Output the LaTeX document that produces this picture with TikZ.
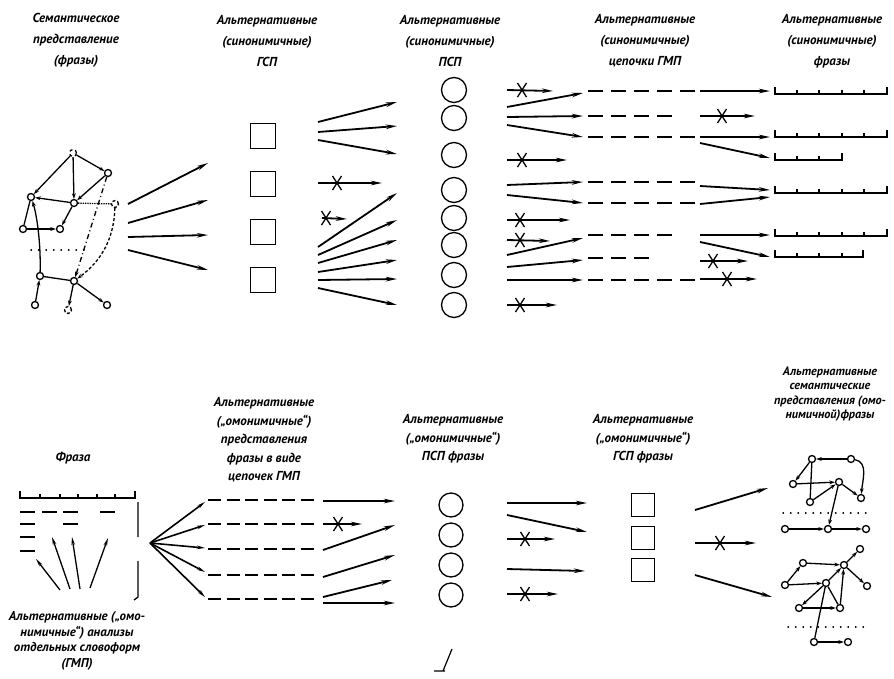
\documentclass[tikz,border=0pt]{standalone}
\usepackage{fontspec}
\setmainfont{PT Sans}
\usetikzlibrary{arrows.meta}
\tikzset{
 arr/.style={line width=1.8pt, -{Stealth[length=11pt,width=4.5pt]}},
 thinarr/.style={line width=1.3pt, -{Stealth[length=8pt,width=3.5pt]}},
 garr/.style={line width=1.3pt, -{Stealth[length=5.5pt,width=3.8pt]}},
 gline/.style={line width=1.3pt},
 gnode/.style={circle, draw, line width=1.3pt, inner sep=0pt, minimum size=7pt, fill=white},
 sqbox/.style={draw, line width=1.4pt, minimum size=25pt, inner sep=0pt},
 sqboxb/.style={draw, line width=1.4pt, minimum size=23pt, inner sep=0pt},
 pspc/.style={circle, draw, line width=1.3pt, minimum size=25pt, inner sep=0pt},
 pspcb/.style={circle, draw, line width=1.3pt, minimum size=24pt, inner sep=0pt},
 chain/.style={line width=1.6pt, dash pattern=on 15pt off 8pt},
 chainb/.style={line width=1.6pt, dash pattern=on 13pt off 5.5pt},
 phr/.style={line width=1.3pt},
 dotl/.style={line width=1.4pt, line cap=round, dash pattern=on 0.5pt off 7pt},
 hdr/.style={font=\bfseries\itshape\fontsize{13}{21}\selectfont, align=center, inner sep=0pt},
 hdrb/.style={font=\bfseries\itshape\fontsize{13}{18.5}\selectfont, align=center, inner sep=0pt},
 hdrs/.style={font=\bfseries\itshape\fontsize{12.2}{14.5}\selectfont, align=center, inner sep=0pt},
 xcross/.pic={\draw[line width=1.3pt] (-4.5,-7) -- (4.5,7) (4.5,-7) -- (-4.5,7);}
}
\newcommand\myarr[4][arr]{\coordinate (#2-s) at (#3); \coordinate (#2-e) at (#4); \draw[#1] (#2-s) -- (#2-e);}
\newcommand\myxarr[4]{\myarr{#1}{#2}{#3}\pic at (#4) {xcross};}
\newcommand\mychain[4][chain]{\coordinate (#2-s) at (#3); \coordinate (#2-e) at (#4); \draw[#1] (#2-s) -- (#2-e);}
\newcommand\myphr[4]{%
 \draw[phr] (#1,#3-7) -- (#1,#3) -- (#2,#3) -- (#2,#3-7);
 \foreach \t in {#4} {\draw[phr] (\t,#3) -- (\t,#3-4);}}
\begin{document}
\begin{tikzpicture}[x=1pt,y=-1pt]
\useasboundingbox[fill=white] (0,0) rectangle (894,678);

% ---------- top headers
\node[hdr] (h1) at (76,40) {Семантическое\\представление\\(фразы)};
\node[hdr] (h2) at (267,41) {Альтернативные\\(синонимичные)\\ГСП};
\node[hdr] (h3) at (450,41) {Альтернативные\\(синонимичные)\\ПСП};
\node[hdr] (h4) at (645,41) {Альтернативные\\(синонимичные)\\цепочки ГМП};
\node[hdr] (h5) at (832,41) {Альтернативные\\(синонимичные)\\фразы};

% ---------- top-left semantic graph
\node[gnode, dashed] (ga) at (73,153) {};
\node[gnode] (gur) at (108,173) {};
\node[gnode] (gl) at (31,197) {};
\node[gnode] (gc) at (74,203) {};
\node[gnode, densely dashed] (gr) at (115,204) {};
\node[gnode] (gll) at (23,229) {};
\node[gnode] (glm) at (60,229) {};
\node[gnode] (gbl) at (40,276) {};
\node[gnode] (gbm) at (74,281) {};
\node[gnode] (gb1) at (35,305) {};
\node[gnode, densely dashed] (gb2) at (68,310) {};
\node[gnode] (gb3) at (107,305) {};
\coordinate (gd1) at (31,250); \coordinate (gd2) at (88,250);
\draw[dotl] (gd1) -- (gd2);
\draw[garr] (ga) -- (gl);
\draw[garr] (ga) -- (gc);
\draw[garr] (ga) -- (gur);
\draw[garr] (gur) -- (gc);
\draw[garr] (gc) -- (gl);
\draw[gline, densely dotted] (gc) -- (gr);
\draw[garr] (gc) -- (glm);
\draw[garr] (gll) -- (glm);
\draw[gline] (gll) -- (gl);
\draw[garr] (gbl) .. controls (41,240) and (36,212) .. (gl);
\draw[garr, dash pattern=on 5pt off 3pt on 1pt off 3pt] (gur) -- (gbm);
\draw[garr, densely dashed] (gr) .. controls (114,240) and (100,262) .. (gbm);
\draw[gline] (gbl) -- (gbm);
\draw[garr] (gb1) -- (gbl);
\draw[garr] (gbm) -- (gb2);
\draw[garr] (gbm) -- (gb3);

% ---------- graph -> GSP arrows
\myarr{ta1}{128,204}{208,163}
\myarr{ta2}{128,223}{208,200}
\myarr{ta3}{128,237}{208,235}
\myarr{ta4}{128,250}{208,270}

% ---------- GSP squares
\node[sqbox] (s1) at (263,136) {};
\node[sqbox] (s2) at (263,184) {};
\node[sqbox] (s3) at (263,232) {};
\node[sqbox] (s4) at (263,280) {};

% ---------- GSP -> PSP arrows
\myarr{tb1}{318,122}{397,102}
\myarr{tb2}{318,132}{397,126}
\myarr{tb3}{318,140}{397,154}
\myxarr{tb4}{318,183}{382,183}{337,183}
\myxarr{tb5}{322,218}{347,219}{326,218}
\myarr{tb6}{318,247}{397,193}
\myarr{tb7}{318,255}{397,220}
\myarr{tb8}{318,263}{397,240}
\myarr{tb9}{318,272}{397,260}
\myarr{tb10}{318,280}{397,279}
\myarr{tb11}{318,288}{397,305}

% ---------- PSP circles
\foreach \i/\y in {1/90,2/118,3/155,4/190,5/218,6/245,7/275,8/305}
  \node[pspc] (p\i) at (454,\y) {};

% ---------- PSP -> chains arrows
\myxarr{tc1}{507,90}{553,91}{522,90}
\myarr{tc2}{507,107}{583,93}
\myarr{tc3}{507,117}{583,116}
\myarr{tc4}{507,125}{583,137}
\myxarr{tc5}{507,160}{567,160}{522,160}
\myarr{tc6}{507,185}{583,182}
\myarr{tc7}{507,195}{583,203}
\myxarr{tc8}{507,220}{570,220}{520,220}
\myxarr{tc9}{507,240}{550,241}{520,240}
\myarr{tc10}{507,255}{583,238}
\myarr{tc11}{507,267}{583,260}
\myarr{tc12}{507,280}{583,280}
\myxarr{tc13}{507,305}{557,305}{520,305}

% ---------- chains of GMP (top)
\mychain{ca}{588,91}{697,91}
\mychain{cb}{588,116}{673,116}
\mychain{cc}{588,137}{697,137}
\mychain{cd}{588,182}{697,182}
\mychain{ce}{588,203}{697,203}
\mychain{cf}{588,235}{673,235}
\mychain{cg}{588,258}{653,258}
\mychain{ch}{588,280}{697,280}

% ---------- chains -> phrases arrows
\myarr{td1}{700,91}{770,91}
\myxarr{td2}{700,116}{755,116}{722,116}
\myarr{td3}{700,137}{770,137}
\myarr{td4}{700,143}{770,158}
\myarr{td5}{700,186}{770,190}
\myarr{td6}{700,204}{770,197}
\myarr{td7}{700,235}{770,235}
\myarr{td8}{700,242}{770,257}
\myxarr{td9}{700,261}{748,261}{713,261}
\myxarr{td10}{700,279}{757,279}{727,279}

% ---------- phrases (top)
\myphr{775}{887}{94}{797,819,842,864}
\myphr{775}{887}{137}{797,819,842,864}
\myphr{775}{842}{160}{797,819}
\myphr{775}{887}{193}{797,819,842,864}
\myphr{775}{887}{236}{797,819,842,864}
\myphr{775}{863}{257}{797,819,842}

% ================= bottom part
\node[hdrb] (fr) at (73,458) {Фраза};
\myphr{20}{135}{498}{40,60,78,97,115}
\draw[phr] (138,502) -- (138,537) (138,561) -- (138,597) -- (134,600);
% word-form analyses
\foreach \a/\b/\y in {20/35/512,42/57/512,63/78/512,100/115/512,20/35/524,63/78/524,20/35/537,20/35/551}
  \draw[line width=1.5pt] (\a,\y) -- (\b,\y);
\myarr[thinarr]{ua1}{60,590}{36,559}
\myarr[thinarr]{ua2}{70,589}{52,537}
\myarr[thinarr]{ua3}{80,589}{72,537}
\myarr[thinarr]{ua4}{90,588}{108,538}
\node[hdrs, font=\bfseries\itshape\fontsize{12.8}{15.5}\selectfont] (lab) at (77,641)
  {Альтернативные („омо-\\нимичные“) анализы\\отдельных словоформ\\(ГМП)};

% phrase -> chains fan
\coordinate (fan) at (150,543);
\coordinate (fe1) at (205,502);
\coordinate (fe2) at (205,525);
\coordinate (fe3) at (205,548);
\coordinate (fe4) at (205,572);
\coordinate (fe5) at (205,597);
\foreach \i in {1,...,5} \draw[thinarr, line width=1.6pt] (fan) -- (fe\i);

\node[hdrb] (hb2) at (264,440) {Альтернативные\\(„омонимичные“)\\представления\\фразы в виде\\цепочек ГМП};
\mychain[chainb]{bc1}{208,500}{317,500}
\mychain[chainb]{bc2}{208,524}{317,524}
\mychain[chainb]{bc3}{208,549}{317,549}
\mychain[chainb]{bc4}{208,575}{317,575}
\mychain[chainb]{bc5}{208,599}{317,599}

% chains -> PSP
\myarr{be1}{323,501}{395,501}
\myxarr{be2}{323,524}{362,524}{338,524}
\myarr{be3}{323,550}{395,525}
\myarr{be4}{323,577}{395,555}
\myarr{be5}{323,597}{392,580}
\myarr{be6}{323,603}{395,603}

\node[hdrb] (hb3) at (453,439) {Альтернативные\\(„омонимичные“)\\ПСП фразы};
\foreach \i/\y in {1/505,2/535,3/565,4/595}
  \node[pspcb] (q\i) at (451,\y) {};

% PSP -> GSP
\myarr{bf1}{507,503}{587,503}
\myarr{bf2}{507,515}{587,532}
\myxarr{bf3}{507,539}{555,539}{525,539}
\myarr{bf4}{507,569}{585,571}
\myxarr{bf5}{507,594}{558,594}{525,594}

\node[hdrb] (hb4) at (643,439) {Альтернативные\\(„омонимичные“)\\ГСП фразы};
\node[sqboxb] (r1) at (643,505) {};
\node[sqboxb] (r2) at (643,538) {};
\node[sqboxb] (r3) at (643,570) {};

% GSP -> semantic graphs
\myarr{bg1}{695,510}{768,488}
\myxarr{bg2}{695,543}{756,543}{720,543}
\myarr{bg3}{695,575}{772,597}

\node[hdrs] (hb5) at (830,394) {Альтернативные\\семантические\\представления (омо-\\нимичной)фразы};

% graph 1
\node[gnode] (n1) at (812,459) {};
\node[gnode] (n2) at (851,459) {};
\node[gnode] (n3) at (793,484) {};
\node[gnode] (n4) at (839,482) {};
\node[gnode] (n5) at (810,502) {};
\node[gnode] (n6) at (861,498) {};
\node[gnode] (n7) at (785,529) {};
\node[gnode] (n8) at (828,529) {};
\node[gnode] (n9) at (866,529) {};
\coordinate (nd1) at (783,513); \coordinate (nd2) at (873,513);
\draw[dotl] (nd1) -- (nd2);
\draw[garr] (n2) -- (n1);
\draw[garr] (n1) -- (n3);
\draw[gline] (n1) -- (n5);
\draw[garr] (n3) -- (n4);
\draw[garr] (n5) -- (n4);
\draw[garr] (n2) to[out=-10, in=85] (n6);
\draw[garr] (n4) -- (n6);
\draw[garr] (n4) -- (n8);
\draw[garr] (n7) -- (n8);
\draw[garr] (n8) -- (n9);

% graph 2
\node[gnode] (m1) at (860,549) {};
\node[gnode] (m2) at (803,563) {};
\node[gnode] (m3) at (844,565) {};
\node[gnode] (m4) at (785,585) {};
\node[gnode] (m5) at (826,583) {};
\node[gnode] (m6) at (867,586) {};
\node[gnode] (m7) at (799,608) {};
\node[gnode] (m8) at (840,608) {};
\node[gnode] (m9) at (814,642) {};
\node[gnode] (m10) at (848,642) {};
\coordinate (md1) at (788,627); \coordinate (md2) at (867,627);
\draw[dotl] (md1) -- (md2);
\draw[garr] (m3) -- (m1);
\draw[garr] (m2) -- (m3);
\draw[garr] (m4) -- (m2);
\draw[garr] (m4) -- (m5);
\draw[garr] (m5) -- (m3);
\draw[garr] (m3) -- (m6);
\draw[garr] (m5) -- (m7);
\draw[garr] (m7) -- (m8);
\draw[garr] (m8) -- (m3);
\draw[gline] (m5) -- (m8);
\draw[gline] (m9) -- (m5);
\draw[garr] (m9) -- (m10);

% figure number mark
\coordinate (fg1) at (434,671); \coordinate (fg2) at (445,671); \coordinate (fg3) at (452,649);
\draw[line width=1.2pt] (fg1) -- (fg2) (443,671) -- (fg3);
\end{tikzpicture}
\end{document}
